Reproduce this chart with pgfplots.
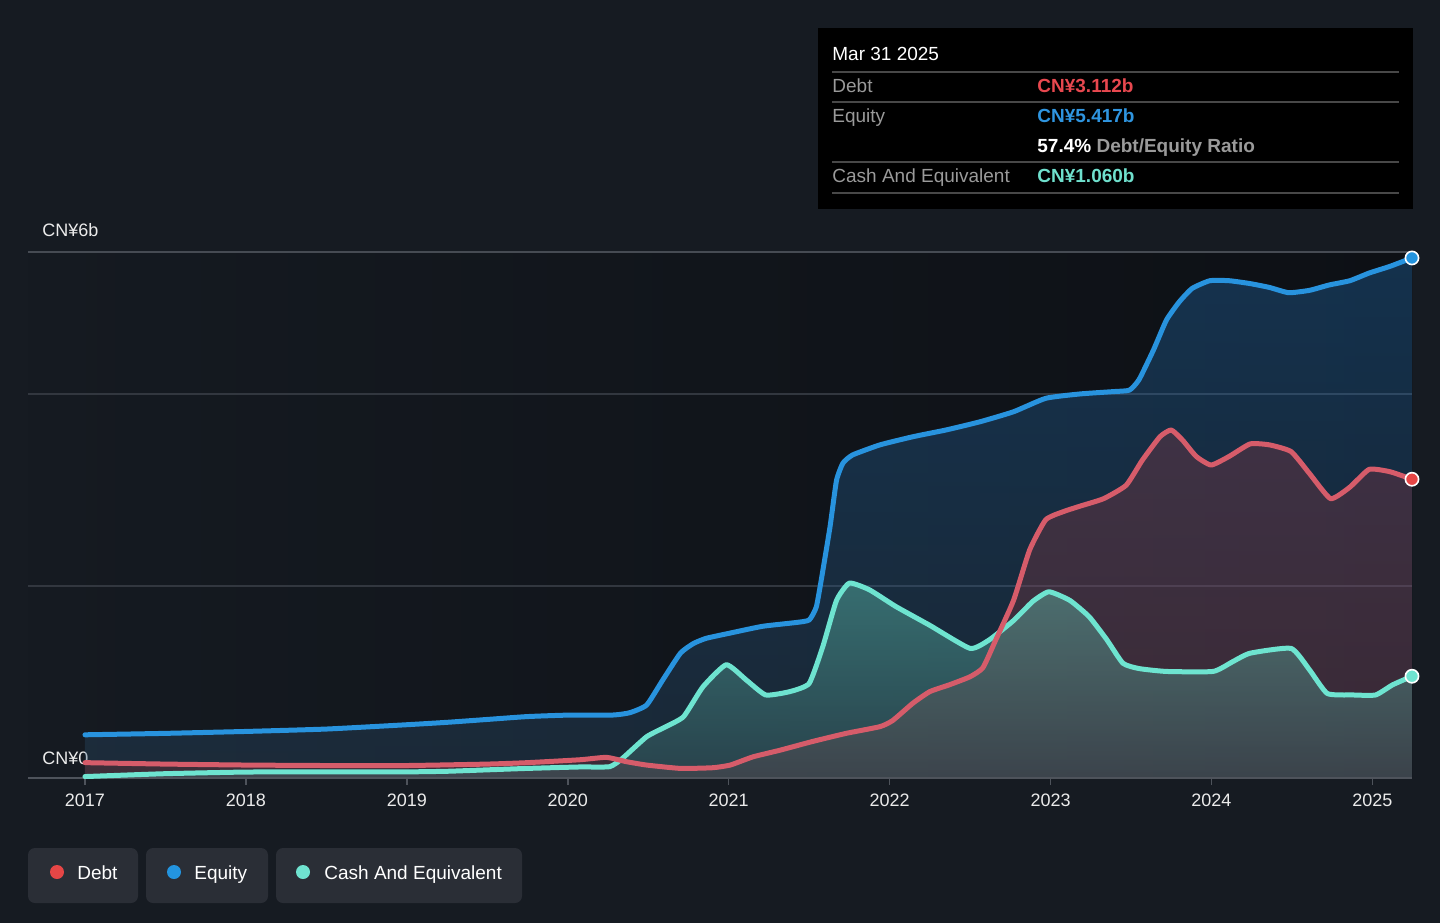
\documentclass[border=0pt]{standalone}
\usepackage{fontspec}
\setmainfont{Liberation Sans}
\usepackage{pgfplots}
\usepackage{pgfplotstable}
\pgfplotsset{compat=1.18}
\newcommand\fs[1]{\fontsize{#1}{#1}\selectfont}
\definecolor{bg}{RGB}{22,27,34}
\definecolor{pbgL}{RGB}{21,26,33}
\definecolor{pbgR}{RGB}{13,16,21}
\definecolor{gridc}{RGB}{50,55,63}
\definecolor{topc}{RGB}{70,75,83}
\definecolor{axisc}{RGB}{78,83,91}
\definecolor{tickc}{RGB}{235,235,235}
\definecolor{eqline}{RGB}{40,147,222}
\definecolor{debtline}{RGB}{214,92,106}
\definecolor{cashline}{RGB}{110,228,208}
\definecolor{eqdot}{RGB}{35,148,223}
\definecolor{debtdot}{RGB}{230,70,70}
\definecolor{cashdot}{RGB}{111,227,208}
\definecolor{eqT}{RGB}{35,120,195}
\definecolor{eqB}{RGB}{45,80,110}
\definecolor{dbT}{RGB}{185,62,70}
\definecolor{dbB}{RGB}{160,55,60}
\definecolor{caT}{RGB}{102,210,187}
\definecolor{caB}{RGB}{63,107,110}
\definecolor{legbox}{RGB}{42,46,54}
\definecolor{lab}{RGB}{154,154,154}
\definecolor{sep}{RGB}{72,72,72}
\definecolor{debtval}{RGB}{232,72,79}
\definecolor{eqval}{RGB}{47,149,224}
\definecolor{cashval}{RGB}{111,224,205}

\pgfplotstableread{
x y
2017.00 0.450
2017.50 0.465
2018.00 0.485
2018.50 0.510
2019.00 0.555
2019.25 0.580
2019.50 0.610
2019.75 0.640
2020.00 0.655
2020.28 0.656
2020.385 0.680
2020.49 0.760
2020.59 1.020
2020.70 1.300
2020.78 1.400
2020.86 1.455
2021.01 1.510
2021.21 1.580
2021.42 1.620
2021.50 1.646
2021.545 1.785
2021.586 2.170
2021.63 2.620
2021.67 3.100
2021.71 3.280
2021.77 3.365
2021.94 3.470
2022.145 3.555
2022.35 3.625
2022.56 3.710
2022.77 3.815
2022.97 3.955
2023.18 4.000
2023.39 4.025
2023.49 4.040
2023.55 4.150
2023.64 4.460
2023.72 4.770
2023.80 4.960
2023.88 5.100
2023.99 5.180
2024.11 5.180
2024.24 5.150
2024.36 5.110
2024.48 5.055
2024.61 5.080
2024.73 5.135
2024.86 5.180
2024.98 5.260
2025.11 5.330
2025.246 5.417
}\eqdata

\pgfplotstableread{
x y
2017.00 0.160
2017.50 0.145
2018.00 0.135
2018.50 0.130
2019.00 0.130
2019.50 0.145
2019.75 0.160
2020.075 0.190
2020.24 0.215
2020.365 0.170
2020.49 0.135
2020.70 0.100
2020.90 0.107
2021.01 0.135
2021.15 0.220
2021.32 0.290
2021.52 0.380
2021.73 0.465
2021.94 0.535
2022.02 0.600
2022.145 0.780
2022.25 0.900
2022.37 0.970
2022.50 1.055
2022.58 1.150
2022.66 1.440
2022.77 1.850
2022.87 2.375
2022.97 2.690
2023.08 2.775
2023.18 2.830
2023.33 2.910
2023.47 3.050
2023.57 3.310
2023.68 3.555
2023.75 3.625
2023.82 3.520
2023.905 3.350
2023.998 3.260
2024.11 3.350
2024.24 3.480
2024.36 3.470
2024.495 3.400
2024.61 3.170
2024.74 2.910
2024.86 3.030
2024.98 3.215
2025.11 3.190
2025.246 3.112
}\dbdata

\pgfplotstableread{
x y
2017.00 0.015
2017.50 0.045
2018.00 0.062
2018.50 0.064
2019.00 0.064
2019.25 0.070
2019.50 0.085
2019.75 0.100
2020.075 0.115
2020.26 0.118
2020.34 0.205
2020.49 0.430
2020.61 0.535
2020.72 0.640
2020.84 0.950
2020.985 1.180
2021.11 1.020
2021.23 0.865
2021.38 0.900
2021.50 0.985
2021.585 1.370
2021.67 1.850
2021.75 2.030
2021.875 1.960
2022.04 1.785
2022.25 1.590
2022.50 1.350
2022.62 1.440
2022.77 1.640
2022.89 1.840
2022.99 1.940
2023.12 1.850
2023.24 1.680
2023.35 1.440
2023.45 1.195
2023.55 1.140
2023.72 1.110
2024.01 1.110
2024.13 1.210
2024.24 1.300
2024.495 1.350
2024.61 1.125
2024.72 0.880
2024.88 0.865
2025.02 0.865
2025.125 0.970
2025.246 1.060
}\cadata

\begin{document}
\begin{tikzpicture}
\fill[bg] (0,0) rectangle (720pt,461.5pt);
\begin{scope}[shift={(0,461.5pt)}, x=0.5pt, y=-0.5pt]
  \shade[left color=pbgL, right color=pbgR] (28,252) rectangle (1412,778);
  \node[anchor=base west, inner sep=0pt, font=\fs{9}, text=tickc] at (42,237) {CN¥6b};
  \node[anchor=base west, inner sep=0pt, font=\fs{9}, text=tickc] at (42,764) {CN¥0};
\end{scope}

\begin{axis}[
  at={(14pt,72.5pt)}, anchor=south west, scale only axis,
  width=692pt, height=263pt,
  xmin=2016.646, xmax=2025.246, ymin=0, ymax=5.479,
  axis line style={draw=none},
  xtick={2017,2018,2019,2020,2021,2022,2023,2024,2025},
  xticklabels={2017,2018,2019,2020,2021,2022,2023,2024,2025},
  ytick={2,4}, yticklabels={},
  ymajorgrids, grid style={color=gridc, line width=0.7pt},
  tick align=outside, xtick pos=left,
  ytick style={draw=none}, major tick length=3.5pt,
  xtick style={color=axisc, line width=0.8pt},
  xticklabel style={font=\fs{9}, text=tickc, yshift=-1pt},
  clip mode=individual,
  every axis plot/.append style={smooth, tension=0.3},
]
\draw[topc, line width=0.8pt] (rel axis cs:0,1) -- (rel axis cs:1,1);
\addplot[draw=none, top color=eqT, bottom color=eqB, fill opacity=0.32] table {\eqdata} \closedcycle;
\addplot[draw=none, top color=dbT, bottom color=dbB, fill opacity=0.25] table {\dbdata} \closedcycle;
\addplot[draw=none, top color=caT, bottom color=caB, fill opacity=0.40] table {\cadata} \closedcycle;
\draw[axisc, line width=0.8pt] (rel axis cs:0,0) -- (rel axis cs:1,0);
\addplot[eqline, line width=2.5pt, line join=round, line cap=round] table {\eqdata};
\addplot[cashline, line width=2.5pt, line join=round, line cap=round] table {\cadata};
\addplot[debtline, line width=2.5pt, line join=round, line cap=round] table {\dbdata};
\addplot[only marks, mark=*, mark size=3.3pt, mark options={fill=eqdot, draw=white, line width=0.8pt}] coordinates {(2025.246,5.417)};
\addplot[only marks, mark=*, mark size=3.3pt, mark options={fill=debtdot, draw=white, line width=0.8pt}] coordinates {(2025.246,3.112)};
\addplot[only marks, mark=*, mark size=3.3pt, mark options={fill=cashdot, draw=white, line width=0.8pt}] coordinates {(2025.246,1.060)};
\end{axis}

\begin{scope}[shift={(0,461.5pt)}, x=0.5pt, y=-0.5pt]
  % tooltip
  \fill[black] (818,28) rectangle (1413,209);
  \foreach \yy in {72,102,162,193} {\draw[sep, line width=0.8pt] (832,\yy) -- (1399,\yy);}
  \node[anchor=base west, inner sep=0pt, font=\fs{9.5}, text=white] at (832,61) {Mar 31 2025};
  \node[anchor=base west, inner sep=0pt, font=\fs{9.5}, text=lab] at (832,93) {Debt};
  \node[anchor=base west, inner sep=0pt, font=\fs{9.5}, text=lab] at (832,123) {Equity};
  \node[anchor=base west, inner sep=0pt, font=\fs{9.5}, text=lab] at (832,183) {Cash And Equivalent};
  \node[anchor=base west, inner sep=0pt, font=\fs{9.5}\bfseries, text=debtval] at (1037,93) {CN¥3.112b};
  \node[anchor=base west, inner sep=0pt, font=\fs{9.5}\bfseries, text=eqval] at (1037,123) {CN¥5.417b};
  \node[anchor=base west, inner sep=0pt, font=\fs{9.5}\bfseries, text=white] at (1037,153) {57.4\% \textcolor{lab}{Debt/Equity Ratio}};
  \node[anchor=base west, inner sep=0pt, font=\fs{9.5}\bfseries, text=cashval] at (1037,183) {CN¥1.060b};
  % legend
  \fill[legbox, rounded corners=3.5pt] (28,848) rectangle (138,903);
  \fill[legbox, rounded corners=3.5pt] (146,848) rectangle (268,903);
  \fill[legbox, rounded corners=3.5pt] (276,848) rectangle (522,903);
  \fill[debtdot] (57,872) circle (7);
  \fill[eqdot] (174,872) circle (7);
  \fill[cashdot] (303,872) circle (7);
  \node[anchor=base west, inner sep=0pt, font=\fs{9.5}, text=white] at (77,879) {Debt};
  \node[anchor=base west, inner sep=0pt, font=\fs{9.5}, text=white] at (194,879) {Equity};
  \node[anchor=base west, inner sep=0pt, font=\fs{9.5}, text=white] at (324,879) {Cash And Equivalent};
\end{scope}
\end{tikzpicture}
\end{document}
